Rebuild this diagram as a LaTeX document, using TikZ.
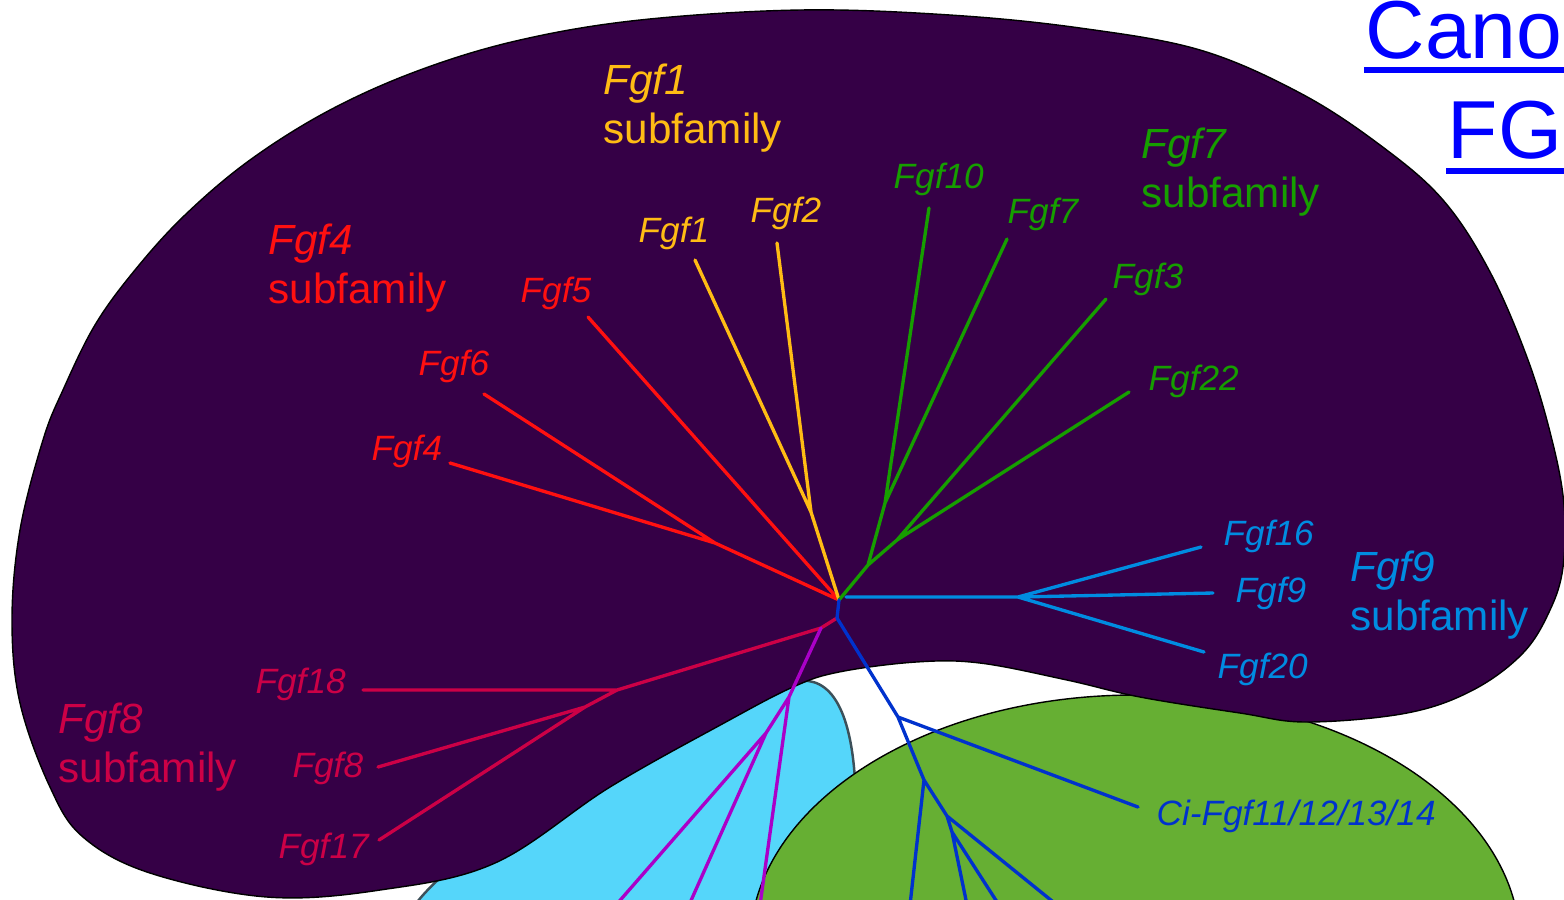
\documentclass[tikz,border=0pt]{standalone}
\usepackage{fontspec}
\setmainfont{Liberation Sans}
\usepackage{tikz}

\begin{document}
\begin{tikzpicture}
	[x=0.01cm,y=-0.01cm,line cap=round,line join=round,
	%Styles
	blob/.style={draw=black,line width=0.4pt},
	branch/.style={line width=0.95pt},
	gene/.style={inner sep=0pt,anchor=base west,font=\fontsize{10}{12}\selectfont\itshape},
	family/.style={inner sep=0pt,anchor=north west,align=left,font=\fontsize{12}{13.9}\selectfont},
	link/.style={inner sep=0pt,anchor=base west,text=linkblue,font=\fontsize{23.4}{28}\selectfont},
	linkline/.style={draw=linkblue,line width=1.6pt,line cap=butt}
	]

	%Colors
	\definecolor{famback}{RGB}{53,0,70}
	\definecolor{cyanback}{RGB}{85,214,250}
	\definecolor{greenback}{RGB}{102,175,51}
	\definecolor{fgfred}{RGB}{255,16,16}
	\definecolor{fgfyellow}{RGB}{255,188,20}
	\definecolor{fgfgreen}{RGB}{22,158,0}
	\definecolor{fgfblue}{RGB}{0,140,225}
	\definecolor{fgfcrimson}{RGB}{204,0,70}
	\definecolor{fgfmagenta}{RGB}{170,0,200}
	\definecolor{cidarkblue}{RGB}{0,50,205}
	\definecolor{linkblue}{RGB}{0,0,255}

	\useasboundingbox (0,0) rectangle (1564,899);
	\fill[white] (0,0) rectangle (1564,899);
	\clip (0,0) rectangle (1564,899);

	%Background shapes
	\draw[draw={rgb,255:red,60;green,80;blue,90},line width=0.7pt,fill=cyanback]
		(415,905) .. controls (445,862) and (600,745) .. (790,683)
		.. controls (825,672) and (850,700) .. (855,780) -- (858,905) -- cycle;
	\draw[blob,fill=greenback] (1135,945) ellipse [x radius=385,y radius=250];
	\draw[blob,fill=famback] plot[smooth cycle,tension=0.6] coordinates {
		(63,390) (95,325) (135,270) (185,215) (250,160) (330,110) (420,70) (520,40)
		(640,20) (800,10) (950,15) (1080,28) (1200,50) (1300,93) (1380,145)
		(1443,200) (1490,272) (1528,360) (1552,440) (1564,505) (1563,567)
		(1550,610) (1523,653) (1473,690) (1407,713) (1307,722) (1240,713)
		(1140,697) (1067,680) (980,663) (916,662) (839,672) (793,687) (724,723)
		(610,787) (495,863) (380,890) (267,897) (150,873) (83,837) (50,787)
		(20,703) (12,620) (20,530) (43,440)};

	%The tree
	\coordinate (c0) at (839,600);
	\coordinate (f4n) at (715,543);
	\coordinate (f1n) at (811,512);
	\coordinate (g0) at (868,565);
	\coordinate (g7n) at (885,503);
	\coordinate (g3n) at (897,540);
	\coordinate (b0) at (846,597);
	\coordinate (b1) at (1018,597);
	\coordinate (d0) at (837,618);
	\coordinate (k0) at (821,628);
	\coordinate (k1) at (617,690);
	\coordinate (k2) at (585,707);
	\coordinate (m0) at (789,697);
	\coordinate (m1) at (766,733);
	\coordinate (ci0) at (898,717);
	\coordinate (ci1) at (924,780);
	\coordinate (ci2) at (947,816);
	\coordinate (ci3) at (952,832);

	% leaf ends
	\coordinate (e5) at (588,317);
	\coordinate (e6) at (484,394);
	\coordinate (e4) at (450,463);
	\coordinate (e1) at (695,260);
	\coordinate (e2) at (777,243);
	\coordinate (e10) at (929,208);
	\coordinate (e7) at (1007,239);
	\coordinate (e3) at (1106,299);
	\coordinate (e22) at (1129,392);
	\coordinate (e16) at (1201,547);
	\coordinate (e9) at (1213,593);
	\coordinate (e20) at (1204,652);
	\coordinate (e18) at (363,690);
	\coordinate (e8) at (378,767);
	\coordinate (e17) at (379,840);
	\coordinate (eci) at (1138,807);
	\coordinate (em1) at (760,905);
	\coordinate (em2) at (616,905);
	\coordinate (em3) at (689,905);
	\coordinate (ec1) at (910,905);
	\coordinate (ec2) at (1057,905);
	\coordinate (ec3) at (967,905);
	\coordinate (ec4) at (999,905);

	\draw[branch,fgfred] (c0) -- (e5) (c0) -- (f4n) -- (e6) (f4n) -- (e4);
	\draw[branch,fgfyellow] (c0) -- (f1n) -- (e1) (f1n) -- (e2);
	\draw[branch,fgfgreen] (c0) -- (g0) -- (g7n) -- (e10) (g7n) -- (e7)
		(g0) -- (g3n) -- (e3) (g3n) -- (e22);
	\draw[branch,fgfblue] (b0) -- (b1) -- (e16) (b1) -- (e9) (b1) -- (e20);
	\draw[branch,fgfcrimson] (d0) -- (k0) -- (k1) -- (e18) (k1) -- (k2) -- (e8) (k2) -- (e17);
	\draw[branch,fgfmagenta] (k0) -- (m0) -- (em1) (m0) -- (m1) -- (em2) (m1) -- (em3);
	\draw[branch,cidarkblue] (c0) -- (d0) -- (ci0) -- (eci) (ci0) -- (ci1) -- (ec1)
		(ci1) -- (ci2) -- (ec2) (ci2) -- (ci3) -- (ec3) (ci3) -- (ec4);

	%Labels
	\node[gene,text=fgfred] (lf5) at (520,302) {Fgf5};
	\node[gene,text=fgfred] (lf6) at (418,375) {Fgf6};
	\node[gene,text=fgfred] (lf4) at (371,460) {Fgf4};
	\node[gene,text=fgfyellow] (lf1) at (638,242) {Fgf1};
	\node[gene,text=fgfyellow] (lf2) at (750,222) {Fgf2};
	\node[gene,text=fgfgreen] (lf10) at (893,188) {Fgf10};
	\node[gene,text=fgfgreen] (lf7) at (1007,223) {Fgf7};
	\node[gene,text=fgfgreen] (lf3) at (1112,288) {Fgf3};
	\node[gene,text=fgfgreen] (lf22) at (1148,390) {Fgf22};
	\node[gene,text=fgfblue] (lf16) at (1223,545) {Fgf16};
	\node[gene,text=fgfblue] (lf9) at (1235,602) {Fgf9};
	\node[gene,text=fgfblue] (lf20) at (1217,678) {Fgf20};
	\node[gene,text=fgfcrimson] (lf18) at (255,693) {Fgf18};
	\node[gene,text=fgfcrimson] (lf8) at (292,777) {Fgf8};
	\node[gene,text=fgfcrimson] (lf17) at (278,858) {Fgf17};
	\node[gene,text=cidarkblue] (lci) at (1156,825) {Ci-Fgf11/12/13/14};

	\node[family,text=fgfyellow] (fam1) at (603,63) {\textit{Fgf1}\\subfamily};
	\node[family,text=fgfred] (fam4) at (268,223) {\textit{Fgf4}\\subfamily};
	\node[family,text=fgfgreen] (fam7) at (1141,127) {\textit{Fgf7}\\subfamily};
	\node[family,text=fgfblue] (fam9) at (1350,550) {\textit{Fgf9}\\subfamily};
	\node[family,text=fgfcrimson] (fam8) at (58,702) {\textit{Fgf8}\\subfamily};

	\node[link] (cano) at (1365,58) {Cano};
	\node[link] (fgtitle) at (1447,158) {FG};
	\draw[linkline] (1364,70) -- (1570,70);
	\draw[linkline] (1446,171) -- (1570,171);
\end{tikzpicture}
\end{document}
